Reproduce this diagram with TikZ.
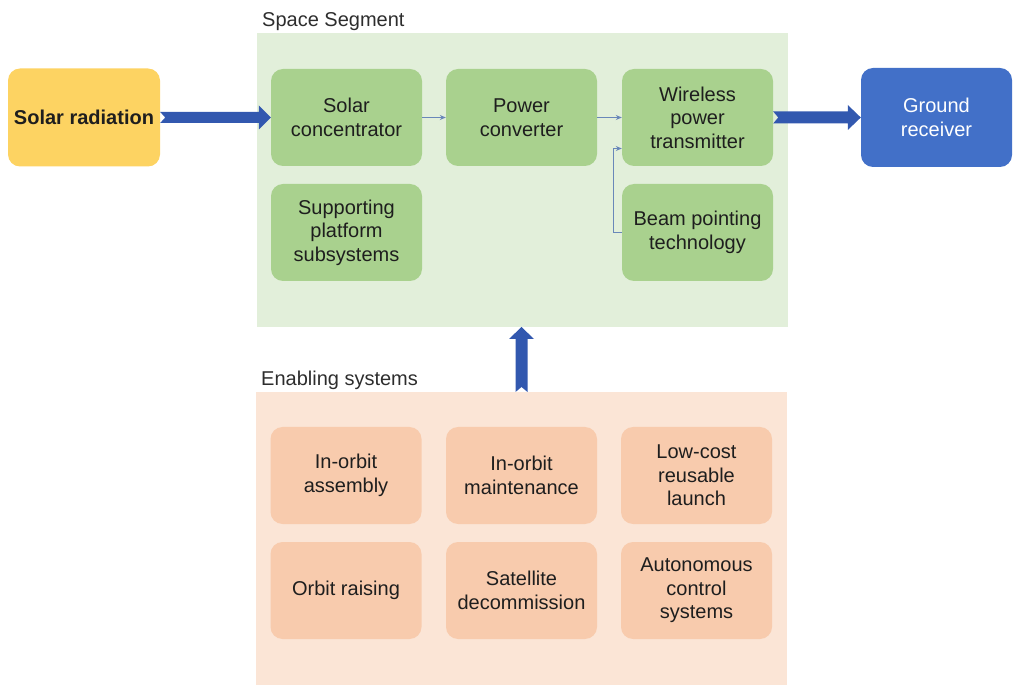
\documentclass[tikz,border=0pt]{standalone}
\usepackage{fontspec}
\setmainfont{Liberation Sans}
\usetikzlibrary{calc,arrows.meta}
\definecolor{yel}{RGB}{253,211,98}
\definecolor{gfill}{RGB}{169,209,142}
\definecolor{gpanel}{RGB}{226,239,218}
\definecolor{ofill}{RGB}{248,203,173}
\definecolor{opanel}{RGB}{251,229,214}
\definecolor{grblue}{RGB}{66,112,200}
\definecolor{arrowc}{RGB}{50,88,175}
\definecolor{linkc}{RGB}{105,135,185}
\definecolor{txt}{RGB}{30,30,30}
\definecolor{labc}{RGB}{45,45,45}
\begin{document}
\begin{tikzpicture}[x=1pt,y=-1pt,
  box/.style={rounded corners=12pt, minimum width=151pt, minimum height=97pt,
    align=center, inner sep=2pt, font=\fontsize{20}{23.5}\selectfont, text=txt},
  gbox/.style={box, fill=gfill},
  obox/.style={box, fill=ofill},
  panel/.style={inner sep=0pt, outer sep=0pt, anchor=north west},
  grplabel/.style={anchor=base west, font=\fontsize{20}{24}\selectfont, text=labc, inner sep=0pt},
  link/.style={draw=linkc, line width=1pt, -{Stealth[length=6pt,width=5pt]}}
]
\useasboundingbox (0,0) rectangle (1018,692);
% panels
\node[panel, fill=gpanel, minimum width=531pt, minimum height=294pt] (space) at (257,33) {};
\node[panel, fill=opanel, minimum width=531pt, minimum height=293pt] (enab) at (256,392) {};
\node[grplabel] (sslab) at (262,27) {Space Segment};
\node[grplabel] (enlab) at (261,386) {Enabling systems};
% outer nodes
\node[box, fill=yel, minimum width=152pt, minimum height=98pt, font=\fontsize{20}{23.5}\selectfont\bfseries] (sr) at (84,117.5) {Solar radiation};
\node[box, fill=grblue, text=white, minimum height=99pt] (gr) at (936.5,117.5) {Ground\\receiver};
% space segment
\node[gbox] (sc) at (346.5,117.5) {Solar\\concentrator};
\node[gbox] (pc) at (521.5,117.5) {Power\\converter};
\node[gbox] (wpt) at (697.5,117.5) {Wireless\\power\\transmitter};
\node[gbox] (sps) at (346.5,232.5) {Supporting\\platform\\subsystems};
\node[gbox] (bp) at (697.5,232.5) {Beam pointing\\technology};
% enabling systems
\node[obox] (ioa) at (346,475.5) {In-orbit\\assembly};
\node[obox] (iom) at (521.5,475.5) {In-orbit\\maintenance};
\node[obox] (lcl) at (696.5,475.5) {Low-cost\\reusable\\launch};
\node[obox] (orr) at (346,590.5) {Orbit raising};
\node[obox] (sd) at (521.5,590.5) {Satellite\\decommission};
\node[obox] (acs) at (696.5,590.5) {Autonomous\\control\\systems};
% thin links
\draw[link] (sc.east) -- (pc.west);
\draw[link] (pc.east) -- (wpt.west);
\draw[link] (bp.west) -- ++(-8,0) |- ($(wpt.west)+(0,31)$);
% big arrows
\fill[arrowc] let \p1=(sr.east), \p2=(sc.west) in
  (\x1,\y1+5.5pt) -- (\x2-12pt,\y1+5.5pt) -- (\x2-12pt,\y1+12pt) -- (\x2,\y1)
  -- (\x2-12pt,\y1-12pt) -- (\x2-12pt,\y1-5.5pt) -- (\x1,\y1-5.5pt) -- (\x1+5pt,\y1) -- cycle;
\fill[arrowc] let \p1=(wpt.east), \p2=(gr.west) in
  (\x1,\y1+6pt) -- (\x2-13pt,\y1+6pt) -- (\x2-13pt,\y1+12.5pt) -- (\x2,\y1)
  -- (\x2-13pt,\y1-12.5pt) -- (\x2-13pt,\y1-6pt) -- (\x1,\y1-6pt) -- (\x1+5pt,\y1) -- cycle;
\fill[arrowc] let \p1=(enab.north), \p2=(space.south) in
  (\x1-6pt,\y1) -- (\x1-6pt,\y2-12pt) -- (\x1-12.5pt,\y2-12pt) -- (\x1,\y2)
  -- (\x1+12.5pt,\y2-12pt) -- (\x1+6pt,\y2-12pt) -- (\x1+6pt,\y1) -- (\x1,\y1+5pt) -- cycle;
\end{tikzpicture}
\end{document}
